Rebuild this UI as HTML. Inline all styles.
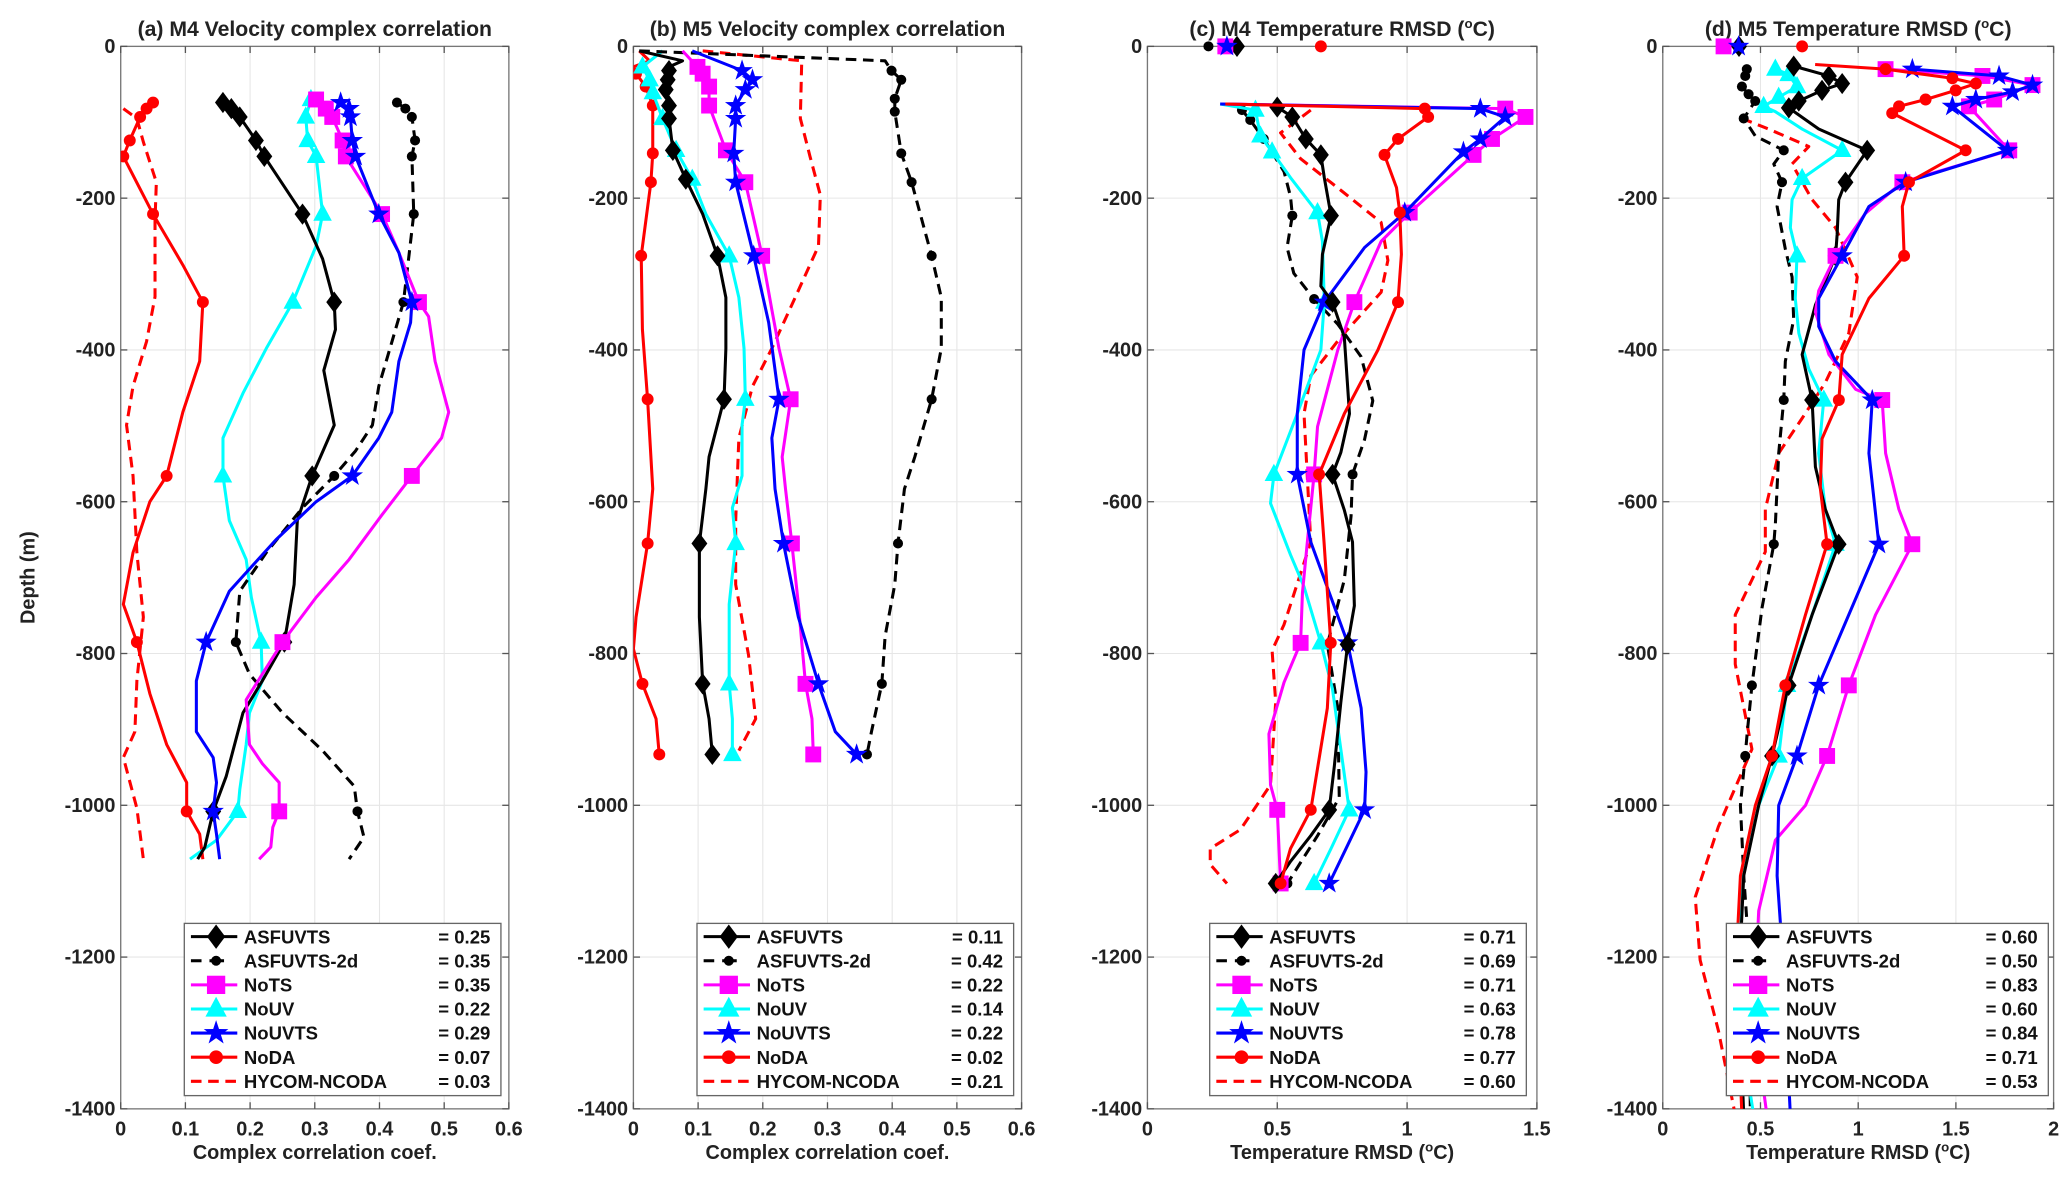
<!DOCTYPE html>
<html><head><meta charset="utf-8"><style>
html,body{margin:0;padding:0;background:#fff;}
svg{display:block;font-family:"Liberation Sans","DejaVu Sans",sans-serif;}
</style></head><body>
<svg id="fig" width="2067" height="1191" viewBox="0 0 1560 899" xmlns="http://www.w3.org/2000/svg">
<rect width="1560" height="899" fill="#fff"/>
<text transform="translate(26,436) rotate(-90)" text-anchor="middle" font-size="15" font-weight="bold" fill="#222">Depth (m)</text>
</svg>
<script>
// ---------- data (depth in m positive-down, value) ----------
const yTicks=[0,-200,-400,-600,-800,-1000,-1200,-1400];
const legendNames=["ASFUVTS","ASFUVTS-2d","NoTS","NoUV","NoUVTS","NoDA","HYCOM-NCODA"];
const legendA=["= 0.25","= 0.35","= 0.35","= 0.22","= 0.29","= 0.07","= 0.03"];
const legendB=["= 0.11","= 0.42","= 0.22","= 0.14","= 0.22","= 0.02","= 0.21"];
const legendC=["= 0.71","= 0.69","= 0.71","= 0.63","= 0.78","= 0.77","= 0.60"];
const legendD=["= 0.60","= 0.50","= 0.83","= 0.60","= 0.84","= 0.71","= 0.53"];

// Panel a
const aAsfD=[74,82,93,124,145,221,280,337,373,427,499,566,625,709,785,836,878,962,1008,1055,1071];
const aAsfV=[.158,.171,.184,.209,.222,.281,.312,.330,.332,.314,.330,.296,.273,.268,.253,.219,.189,.163,.143,.130,.119];
const aAsfM=[74,82,93,124,145,221,337,566,785,1008];
const a2dD=[74,82,93,124,145,221,280,337,390,448,499,533,566,608,667,718,785,827,878,928,975,1008,1042,1071];
const a2dV=[.427,.44,.45,.455,.45,.453,.445,.437,.419,.399,.389,.363,.33,.281,.225,.184,.178,.199,.25,.312,.361,.366,.376,.353];
const a2dM=[74,82,93,124,145,221,337,566,785,1008];
const aTsD=[70,82,93,124,145,221,272,337,356,415,482,516,566,617,676,726,785,827,861,920,945,970,1008,1029,1055,1071];
const aTsV=[.302,.317,.327,.343,.348,.404,.43,.461,.476,.486,.507,.496,.45,.404,.353,.302,.25,.219,.194,.199,.219,.245,.245,.235,.232,.214];
const aTsM=[70,82,93,124,145,221,337,566,785,1008];
const aUvD=[70,93,124,145,221,263,337,398,457,516,566,625,676,726,785,836,878,920,979,1008,1046,1071];
const aUvV=[.294,.286,.289,.302,.312,.302,.266,.225,.189,.158,.158,.168,.194,.202,.217,.219,.199,.194,.184,.181,.148,.107];
const aUvM=[70,93,124,145,221,337,566,785,1008];
const aUvtsD=[74,82,93,124,145,221,272,337,364,415,482,516,566,600,650,718,785,836,903,937,970,1008,1038,1071];
const aUvtsV=[.34,.353,.355,.358,.363,.399,.43,.45,.448,.43,.419,.399,.358,.302,.24,.168,.132,.117,.117,.143,.148,.143,.148,.153];
const aUvtsM=[74,82,93,124,145,221,337,566,785,1008];
const aDaD=[74,82,93,124,145,221,288,337,415,482,566,600,667,735,785,853,920,970,1008,1038,1071];
const aDaV=[.05,.04,.03,.014,.004,.05,.096,.127,.122,.096,.071,.045,.019,.004,.025,.045,.071,.102,.102,.122,.127];
const aDaM=[74,82,93,124,145,221,337,566,785,1008];
const aHyD=[82,95,126,179,229,330,389,448,499,566,667,752,836,903,937,1004,1071];
const aHyV=[.004,.025,.035,.055,.053,.053,.04,.019,.009,.019,.025,.035,.025,.022,.004,.025,.035];

// Panel b
const bAsfD=[6,19,27,32,44,57,78,95,137,175,221,276,331,398,465,541,583,655,752,840,886,933];
const bAsfV=[.009,.076,.055,.055,.053,.05,.055,.055,.061,.081,.107,.13,.143,.143,.14,.117,.112,.102,.102,.107,.117,.122];
const bAsfM=[32,44,57,78,95,137,175,276,465,655,840,933];
const b2dD=[6,19,32,44,69,86,141,179,276,331,398,465,541,583,655,709,777,840,903,933];
const b2dV=[.009,.389,.399,.414,.404,.404,.414,.43,.461,.476,.476,.461,.435,.419,.409,.404,.389,.384,.368,.361];
const b2dM=[32,44,69,86,141,179,276,465,655,840,933];
const bTsD=[6,27,36,53,78,137,179,276,347,398,465,541,583,655,735,840,886,933];
const bTsV=[.076,.099,.107,.117,.117,.143,.173,.199,.214,.225,.243,.23,.235,.245,.255,.266,.276,.278];
const bTsM=[27,36,53,78,137,179,276,465,655,840,933];
const bUvD=[6,27,44,61,95,137,175,221,276,331,398,465,499,566,608,655,735,840,886,933];
const bUvV=[.045,.014,.025,.03,.045,.066,.091,.112,.148,.163,.171,.173,.168,.168,.153,.158,.148,.148,.153,.153];
const bUvM=[27,44,61,95,137,175,276,465,655,840,933];
const bUvtsD=[6,32,44,57,78,95,141,179,276,364,465,516,583,655,752,840,903,933];
const bUvtsV=[.091,.168,.184,.173,.158,.158,.155,.158,.186,.209,.225,.214,.219,.232,.255,.286,.312,.345];
const bUvtsM=[32,44,57,78,95,141,179,276,465,655,840,933];
const bDaD=[6,19,27,36,53,78,141,179,276,373,465,583,655,752,794,840,886,933];
const bDaV=[.009,.025,.0,.004,.019,.03,.03,.027,.012,.014,.022,.03,.022,.004,.0,.014,.035,.04];
const bDaM=[36,53,78,141,179,276,465,655,840,933];
const bHyD=[6,19,23,95,145,196,263,331,398,448,516,625,709,802,886,928];
const bHyV=[.107,.26,.26,.258,.273,.289,.286,.25,.214,.184,.163,.158,.158,.178,.189,.163];

// Panel c
const cAsfD=[80,93,122,143,173,223,274,316,337,383,484,535,564,611,653,737,788,864,948,1006,1040,1074,1103];
const cAsfV=[.5,.558,.61,.668,.681,.707,.674,.668,.713,.758,.778,.745,.713,.758,.79,.797,.771,.745,.72,.7,.629,.551,.494];
const cAsfM=[80,93,122,143,223,337,564,788,1006,1103];
const c2dD=[84,97,122,165,198,223,265,299,333,366,409,467,518,564,619,703,788,872,990,1040,1103];
const c2dV=[.364,.396,.448,.526,.551,.558,.538,.564,.642,.733,.823,.868,.836,.79,.784,.758,.693,.733,.739,.655,.539];
const c2dM=[84,97,122,223,333,564,788,1103];
const cTsD=[76,82,93,122,143,219,257,337,400,501,564,653,720,786,838,906,973,1006,1103];
const cTsV=[.287,1.378,1.456,1.327,1.256,1.01,.9,.797,.733,.655,.642,.616,.597,.59,.526,.468,.474,.5,.513];
const cTsM=[82,93,122,143,219,337,564,786,1006,1103];
const cUvD=[76,84,118,139,173,219,257,337,400,484,564,602,670,712,786,847,1006,1057,1103];
const cUvV=[.28,.416,.435,.48,.551,.655,.674,.681,.668,.577,.487,.474,.551,.603,.668,.713,.777,.707,.642];
const cUvM=[84,118,139,219,337,564,786,1006,1103];
const cUvtsD=[76,82,93,122,139,219,265,337,400,484,564,653,786,872,956,1006,1057,1103];
const cUvtsV=[.28,1.282,1.378,1.282,1.217,.991,.836,.681,.603,.577,.577,.629,.771,.823,.842,.836,.765,.7];
const cUvtsM=[82,93,122,139,219,337,564,786,1006,1103];
const cDaD=[76,82,93,122,143,186,219,274,337,400,484,564,653,786,872,1006,1057,1103];
const cDaV=[.30,1.068,1.081,.965,.913,.959,.972,.978,.965,.888,.758,.661,.68,.706,.693,.629,.551,.513];
const cDaM=[82,93,122,143,219,337,564,786,1006,1103];
const cHyD=[84,114,148,190,232,282,324,383,434,484,568,653,762,796,864,973,1032,1057,1078,1103];
const cHyV=[.629,.513,.59,.746,.9,.926,.9,.745,.629,.603,.616,.629,.526,.48,.494,.474,.358,.242,.242,.306];
const cTopV=[.345,.235,.3,.306,.668];

// Panel d
const dAsfD=[26,39,49,58,72,81,109,137,179,202,248,276,341,406,466,554,610,656,749,842,935,1000,1093,1186,1297,1408];
const dAsfV=[.67,.85,.918,.815,.696,.645,.798,1.046,.935,.9,.892,.884,.781,.713,.764,.781,.832,.9,.764,.644,.559,.491,.414,.397,.397,.414];
const dAsfM=[26,39,49,58,72,81,137,179,276,466,656,842,935];
const d2dD=[30,39,53,63,72,95,118,137,155,179,211,267,304,360,415,466,536,629,656,740,842,907,935,1000,1093,1186,1408];
const d2dV=[.43,.422,.405,.439,.473,.414,.473,.619,.568,.61,.585,.627,.662,.67,.627,.619,.593,.576,.568,.508,.456,.431,.422,.397,.414,.439,.448];
const d2dM=[30,39,53,63,72,95,137,179,466,656,842,935];
const dTsD=[30,39,51,70,79,137,179,220,276,322,350,406,452,466,536,610,656,749,842,935,1000,1046,1139,1278,1408];
const dTsV=[1.14,1.636,1.892,1.696,1.567,1.773,1.226,1.037,.884,.798,.781,.85,.987,1.123,1.14,1.208,1.277,1.089,.952,.841,.73,.576,.491,.465,.533];
const dTsM=[30,39,51,70,79,137,179,276,466,656,842,935];
const dUvD=[30,37,53,67,79,86,109,137,174,202,239,276,332,378,425,466,536,610,656,749,842,935,1000,1093,1186,1297,1408];
const dUvV=[.576,.644,.687,.593,.516,.576,.713,.918,.713,.662,.653,.687,.678,.696,.747,.824,.798,.832,.884,.764,.636,.593,.491,.405,.388,.397,.465];
const dUvM=[30,37,53,67,79,137,174,276,466,656,842,935];
const dUvtsD=[30,39,51,60,70,79,137,179,211,276,332,369,415,466,536,656,842,935,1000,1093,1186,1408];
const dUvtsV=[1.277,1.721,1.892,1.79,1.602,1.482,1.764,1.243,1.055,.918,.798,.798,.884,1.072,1.055,1.106,.798,.687,.593,.585,.61,.653];
const dUvtsM=[30,39,51,60,70,79,137,179,276,466,656,842,935];
const dDaD=[24,30,42,49,58,70,79,88,137,179,211,276,332,406,466,517,582,656,749,842,935,1000,1093,1186,1297,1408];
const dDaV=[.78,1.14,1.482,1.602,1.499,1.345,1.209,1.174,1.55,1.26,1.226,1.235,1.055,.918,.901,.815,.806,.841,.73,.627,.559,.474,.397,.379,.388,.405];
const dDaM=[30,42,49,58,70,79,88,137,179,276,466,656,842,935];
const dHyD=[95,109,132,155,202,239,304,378,443,490,536,610,666,749,814,926,1028,1121,1204,1297,1408];
const dHyV=[.405,.542,.747,.662,.764,.884,.995,.952,.832,.713,.593,.525,.525,.371,.371,.456,.285,.166,.191,.285,.371];
const dTopV=[.39,.311,.388,.713];

// ---------- rendering ----------
const NS="http://www.w3.org/2000/svg";
const svg=document.getElementById('fig');
const TOP=35,BOT=837;
function el(tag,attrs,parent){const e=document.createElementNS(NS,tag);for(const k in attrs)e.setAttribute(k,attrs[k]);(parent||svg).appendChild(e);return e;}
const COL={asf:'#000',d2:'#000',ts:'#ff00ff',uv:'#00ffff',uvts:'#0000ff',da:'#ff0000',hy:'#ff0000'};
const MK={asf:'diamond',d2:'dot',ts:'square',uv:'triangle',uvts:'star',da:'circle',hy:null};

function marker(g,type,x,y,c,s){
  s=s||1;let e;
  if(type==='diamond'){e=el('polygon',{points:`${x},${y-8*s} ${x+6*s},${y} ${x},${y+8*s} ${x-6*s},${y}`,fill:c},g);}
  else if(type==='square'){e=el('rect',{x:x-6*s,y:y-6*s,width:12*s,height:12*s,fill:c},g);}
  else if(type==='triangle'){e=el('polygon',{points:`${x},${y-8*s} ${x+7*s},${y+5*s} ${x-7*s},${y+5*s}`,fill:c},g);}
  else if(type==='star'){let p=[];for(let i=0;i<10;i++){const r=i%2?3.3*s:8.5*s;const a=-Math.PI/2+i*Math.PI/5;p.push((x+r*Math.cos(a)).toFixed(1)+','+(y+r*Math.sin(a)).toFixed(1));}e=el('polygon',{points:p.join(' '),fill:c},g);}
  else if(type==='circle'){e=el('circle',{cx:x,cy:y,r:4.5*s,fill:c},g);}
  else if(type==='dot'){e=el('circle',{cx:x,cy:y,r:3.8*s,fill:c},g);}
  if(e){}
  return e;
}

function panel(cfg){
  const {id,x0,x1,xmax,xticks,xtickLabels,title,xlabel,series,topMarks,legVals,legX,legW}=cfg;
  const xs=v=>x0+v/xmax*(x1-x0);
  const ys=d=>TOP+d/1400*(BOT-TOP);
  const g=el('g',{});
  
  
  const clip=el('clipPath',{id:'clip'+id},g);
  el('rect',{x:x0,y:TOP-12,width:x1-x0,height:BOT-TOP+12},clip);
  const grid=el('g',{stroke:'#e6e6e6','stroke-width':0.8},g);
  
  
  xticks.forEach(v=>el('line',{x1:xs(v),x2:xs(v),y1:TOP,y2:BOT},grid));
  yTicks.forEach(t=>el('line',{x1:x0,x2:x1,y1:ys(-t),y2:ys(-t)},grid));
  const ax=el('rect',{x:x0,y:TOP,width:x1-x0,height:BOT-TOP,fill:'none',stroke:'#777','stroke-width':1},g);
  
  
  xticks.forEach((v,i)=>{
    el('line',{x1:xs(v),x2:xs(v),y1:BOT,y2:BOT-5,stroke:'#555'},g);
    el('line',{x1:xs(v),x2:xs(v),y1:TOP,y2:TOP+5,stroke:'#555'},g);
    const t=el('text',{x:xs(v),y:BOT+20,'text-anchor':'middle','font-size':15,'font-weight':'bold',fill:'#222'},g);
    t.textContent=xtickLabels[i];
    
    
  });
  yTicks.forEach(tk=>{
    el('line',{x1:x0,x2:x0+5,y1:ys(-tk),y2:ys(-tk),stroke:'#555'},g);
    el('line',{x1:x1,x2:x1-5,y1:ys(-tk),y2:ys(-tk),stroke:'#555'},g);
    const t=el('text',{x:x0-4,y:ys(-tk)+5,'text-anchor':'end','font-size':15,'font-weight':'bold',fill:'#222'},g);
    t.textContent=String(tk);
    
    
  });
  const tt=el('text',{x:(x0+x1)/2,y:TOP-8,'text-anchor':'middle','font-size':16,'font-weight':'bold',fill:'#222'},g);
  tt.innerHTML=title;
  
  
  const xl=el('text',{x:(x0+x1)/2,y:BOT+38,'text-anchor':'middle','font-size':15,'font-weight':'bold',fill:'#222'},g);
  xl.innerHTML=xlabel;
  
  
  const sg=el('g',{'clip-path':'url(#clip'+id+')'},g);
  series.forEach(s=>{
    const pts=s.D.map((d,i)=>xs(s.V[i]).toFixed(1)+','+ys(d).toFixed(1)).join(' ');
    const pl=el('polyline',{points:pts,fill:'none',stroke:COL[s.k],'stroke-width':2.3,'stroke-linejoin':'round','stroke-dasharray':(s.k==='d2'||s.k==='hy')?'8,5':'none'},sg);
    
    
    if(s.M&&MK[s.k]){
      s.M.forEach(md=>{const i=s.D.findIndex(d=>Math.abs(d-md)<0.5);if(i>=0)marker(sg,MK[s.k],xs(s.V[i]),ys(s.D[i]),COL[s.k]);});
    }
  });
  if(topMarks){topMarks.forEach(([k,v])=>marker(g,MK[k],xs(v),ys(0),COL[k]));}
  const lg=el('g',{},g);
  
  
  el('rect',{x:legX,y:697,width:legW,height:130,fill:'#fff',stroke:'#666','stroke-width':1},lg);
  const keys=['asf','d2','ts','uv','uvts','da','hy'];
  keys.forEach((k,i)=>{
    const y=707+i*18.2;
    const e=el('g',{},lg);
    
    
    if(k==='d2'){el('line',{x1:legX+5,x2:legX+13,y1:y,y2:y,stroke:'#000','stroke-width':2.3},e);el('line',{x1:legX+19,x2:legX+30,y1:y,y2:y,stroke:'#000','stroke-width':2.3},e);marker(e,'dot',legX+24,y,'#000');}
    else if(k==='hy'){el('line',{x1:legX+5,x2:legX+40,y1:y,y2:y,stroke:'#f00','stroke-width':2.3,'stroke-dasharray':'8,5'},e);}
    else {el('line',{x1:legX+5,x2:legX+40,y1:y,y2:y,stroke:COL[k],'stroke-width':2.3},e);marker(e,MK[k],legX+24,y,COL[k],1.15);}
    const t=el('text',{x:legX+45,y:y+5,'font-size':14,'font-weight':'bold',fill:'#111'},e);
    t.textContent=legendNames[i];
    const v=el('text',{x:legX+legW-8,y:y+5,'text-anchor':'end','font-size':14,'font-weight':'bold',fill:'#111'},e);
    v.textContent=legVals[i];
  });
}

const corrTicks=[0,.1,.2,.3,.4,.5,.6], corrLbl=['0','0.1','0.2','0.3','0.4','0.5','0.6'];
panel({id:'a',x0:91,x1:384,xmax:.6,xticks:corrTicks,xtickLabels:corrLbl,title:'(a) M4 Velocity complex correlation',xlabel:'Complex correlation coef.',legVals:legendA,legX:139,legW:239,
 series:[{k:'hy',D:aHyD,V:aHyV},{k:'da',D:aDaD,V:aDaV,M:aDaM},{k:'uv',D:aUvD,V:aUvV,M:aUvM},{k:'d2',D:a2dD,V:a2dV,M:a2dM},{k:'asf',D:aAsfD,V:aAsfV,M:aAsfM},{k:'ts',D:aTsD,V:aTsV,M:aTsM},{k:'uvts',D:aUvtsD,V:aUvtsV,M:aUvtsM}]});
panel({id:'b',x0:478,x1:771,xmax:.6,xticks:corrTicks,xtickLabels:corrLbl,title:'(b) M5 Velocity complex correlation',xlabel:'Complex correlation coef.',legVals:legendB,legX:526,legW:239,
 series:[{k:'hy',D:bHyD,V:bHyV},{k:'da',D:bDaD,V:bDaV,M:bDaM},{k:'uv',D:bUvD,V:bUvV,M:bUvM},{k:'d2',D:b2dD,V:b2dV,M:b2dM},{k:'asf',D:bAsfD,V:bAsfV,M:bAsfM},{k:'ts',D:bTsD,V:bTsV,M:bTsM},{k:'uvts',D:bUvtsD,V:bUvtsV,M:bUvtsM}]});
panel({id:'c',x0:866,x1:1160,xmax:1.5,xticks:[0,.5,1,1.5],xtickLabels:['0','0.5','1','1.5'],title:'(c) M4 Temperature RMSD (<tspan font-size="10" dy="-6">o</tspan><tspan dy="6">C)</tspan>',xlabel:'Temperature RMSD (<tspan font-size="10" dy="-6">o</tspan><tspan dy="6">C)</tspan>',legVals:legendC,legX:913,legW:239,
 topMarks:[['d2',cTopV[1]],['asf',cTopV[0]],['ts',cTopV[2]],['uvts',cTopV[3]],['da',cTopV[4]]],
 series:[{k:'hy',D:cHyD,V:cHyV},{k:'d2',D:c2dD,V:c2dV,M:c2dM},{k:'uv',D:cUvD,V:cUvV,M:cUvM},{k:'ts',D:cTsD,V:cTsV,M:cTsM},{k:'uvts',D:cUvtsD,V:cUvtsV,M:cUvtsM},{k:'asf',D:cAsfD,V:cAsfV,M:cAsfM},{k:'da',D:cDaD,V:cDaV,M:cDaM}]});
panel({id:'d',x0:1255,x1:1550,xmax:2,xticks:[0,.5,1,1.5,2],xtickLabels:['0','0.5','1','1.5','2'],title:'(d) M5 Temperature RMSD (<tspan font-size="10" dy="-6">o</tspan><tspan dy="6">C)</tspan>',xlabel:'Temperature RMSD (<tspan font-size="10" dy="-6">o</tspan><tspan dy="6">C)</tspan>',legVals:legendD,legX:1303,legW:243,
 topMarks:[['asf',dTopV[0]],['ts',dTopV[1]],['uvts',dTopV[2]],['da',dTopV[3]]],
 series:[{k:'hy',D:dHyD,V:dHyV},{k:'d2',D:d2dD,V:d2dV,M:d2dM},{k:'uv',D:dUvD,V:dUvV,M:dUvM},{k:'asf',D:dAsfD,V:dAsfV,M:dAsfM},{k:'ts',D:dTsD,V:dTsV,M:dTsM},{k:'uvts',D:dUvtsD,V:dUvtsV,M:dUvtsM},{k:'da',D:dDaD,V:dDaV,M:dDaM}]});
</script>
</body></html>
